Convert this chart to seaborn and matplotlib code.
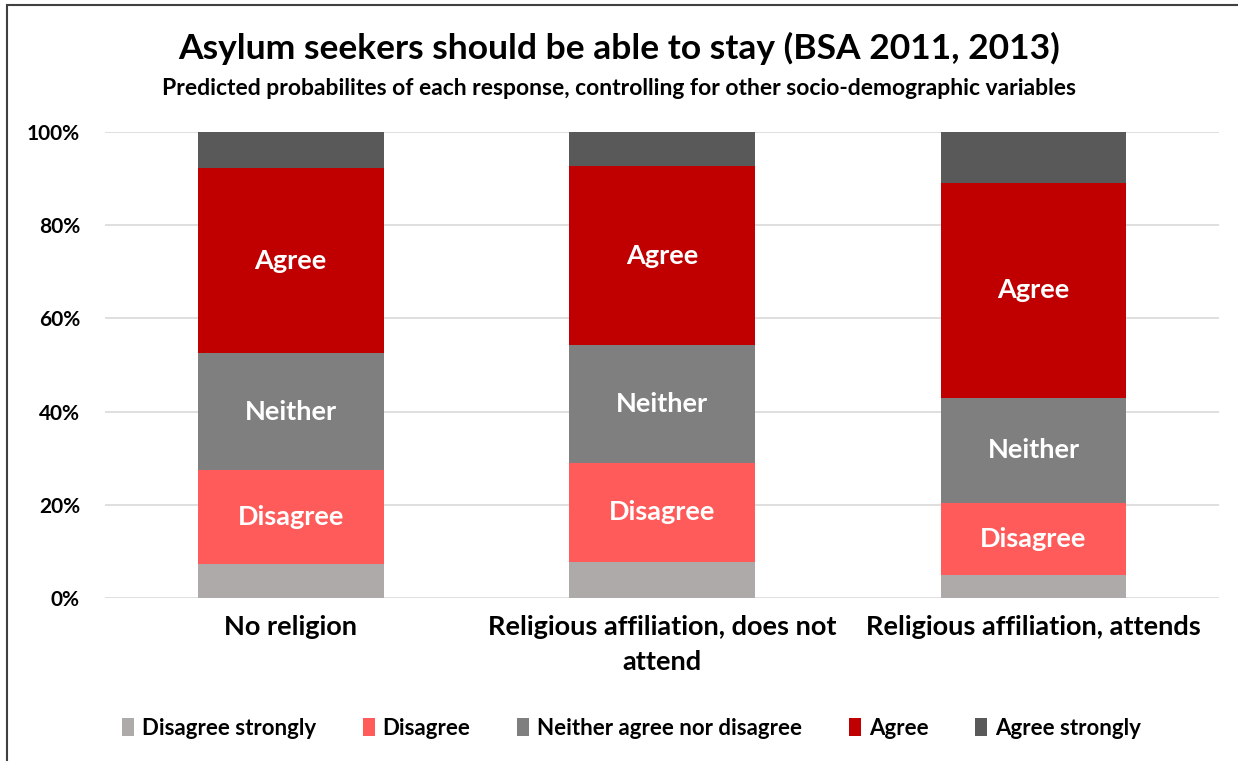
import numpy as np
import pandas as pd
import matplotlib
matplotlib.use("Agg")
import matplotlib.pyplot as plt
import seaborn as sns
from matplotlib.patches import Rectangle, Patch

categories = ["No religion", "Religious affiliation, does not\nattend", "Religious affiliation, attends"]
series_names = ["Disagree strongly", "Disagree", "Neither agree nor disagree", "Agree", "Agree strongly"]
short_labels = [None, "Disagree", "Neither", "Agree", None]
disagree_strongly = [7.2, 7.8, 5.0]
disagree = [20.3, 21.1, 15.4]
neither = [25.0, 25.3, 22.6]
agree = [39.8, 38.5, 46.1]
agree_strongly = [7.7, 7.3, 10.9]
colors = ["#AEAAAA", "#FF5B5B", "#7F7F7F", "#C00000", "#595959"]

series_values = [disagree_strongly, disagree, neither, agree, agree_strongly]

sns.set_theme(style="white")
plt.rcParams['font.family'] = ['Lato', 'DejaVu Sans']
plt.rcParams['text.color'] = 'black'
plt.rcParams['xtick.color'] = 'black'
plt.rcParams['ytick.color'] = 'black'

fig = plt.figure(figsize=(12.38, 7.61), dpi=100)
ax = fig.add_axes([0.0848, 0.2142, 0.9, 0.6123])

bottom = np.zeros(len(categories))
for name, vals, col, lab in zip(series_names, series_values, colors, short_labels):
    vals = np.array(vals)
    df = pd.DataFrame({"cat": categories, "val": vals})
    sns.barplot(data=df, x="cat", y="val", bottom=bottom, color=col, width=0.5,
                saturation=1, ax=ax, linewidth=0, order=categories)
    if lab:
        for i, (b, v) in enumerate(zip(bottom, vals)):
            ax.text(i, b + v / 2, lab, ha="center", va="center", color="white",
                    fontsize=19.5, fontweight="bold")
    bottom = bottom + vals

ax.set_xlim(-0.5, 2.5)
ax.set_ylim(0, 100)
ax.set_yticks([0, 20, 40, 60, 80, 100])
ax.set_yticklabels([f"{t}%" for t in [0, 20, 40, 60, 80, 100]], fontsize=15, fontweight="bold")
ax.yaxis.grid(True, color="#D9D9D9", linewidth=1.2)
ax.set_axisbelow(True)
for s in ax.spines.values():
    s.set_visible(False)
ax.tick_params(axis="y", length=0, pad=18)
ax.tick_params(axis="x", length=0, pad=12)
ax.set_xticks(range(len(categories)))
ax.set_xticklabels(categories, fontsize=19.5, fontweight="bold", linespacing=1.55)
for t in ax.get_xticklabels():
    t.set_va("top")
ax.set_xlabel("")
ax.set_ylabel("")

fig.text(0.5, 0.936, "Asylum seekers should be able to stay (BSA 2011, 2013)",
         ha="center", va="center", fontsize=25.5, fontweight="bold")
fig.text(0.5, 0.884, "Predicted probabilites of each response, controlling for other socio-demographic variables",
         ha="center", va="center", fontsize=16.5, fontweight="bold")

handles = [Patch(facecolor=c, edgecolor="none") for c in colors]
fig.legend(handles, series_names, loc="center", bbox_to_anchor=(0.51, 0.043), ncol=5,
           frameon=False, prop={"weight": "bold", "size": 16},
           handlelength=0.55, handleheight=0.9, handletextpad=0.35, columnspacing=2.1)

fig.patches.append(Rectangle((0.006, -0.01), 1.2, 1.004, transform=fig.transFigure,
                             fill=False, edgecolor="#404040", linewidth=1.5))

fig.savefig("out.png", dpi=100)
